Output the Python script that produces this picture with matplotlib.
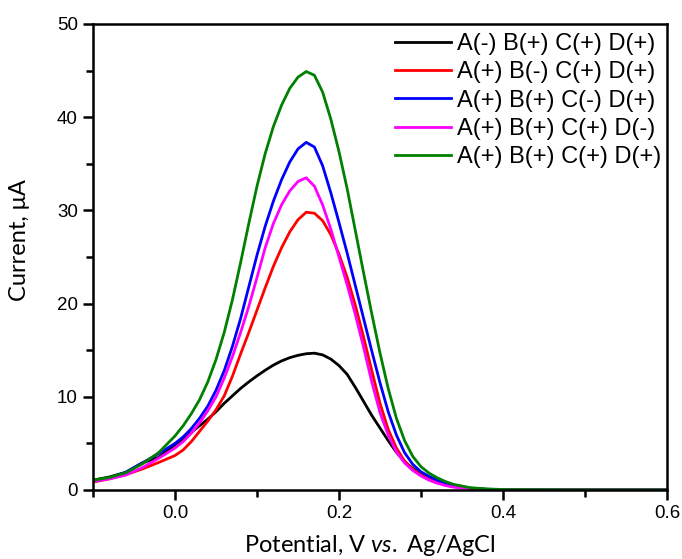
import matplotlib
matplotlib.use("Agg")
import matplotlib.pyplot as plt
from matplotlib.ticker import MultipleLocator, FixedLocator

# ---- data ----
potential = [-0.10, -0.08, -0.06, -0.04, -0.02,
             0.00, 0.01, 0.02, 0.03, 0.04, 0.05, 0.06, 0.07, 0.08, 0.09,
             0.10, 0.11, 0.12, 0.13, 0.14, 0.15, 0.16, 0.17, 0.18, 0.19,
             0.20, 0.21, 0.22, 0.23, 0.24, 0.25, 0.26, 0.27, 0.28, 0.29,
             0.30, 0.31, 0.32, 0.33, 0.34, 0.36, 0.38, 0.40, 0.50, 0.60]

cur_a_minus = [1.05, 1.4, 1.9, 2.9, 3.5,
               4.85, 5.5, 6.2, 6.9, 7.6, 8.4, 9.3, 10.1, 10.9, 11.6,
               12.25, 12.85, 13.4, 13.85, 14.2, 14.45, 14.62, 14.68, 14.5, 14.05,
               13.35, 12.4, 11.0, 9.5, 8.0, 6.65, 5.3, 4.05, 3.05, 2.3,
               1.75, 1.25, 0.9, 0.6, 0.4, 0.15, 0.06, 0.02, 0.01, 0.01]

cur_b_minus = [0.85, 1.2, 1.65, 2.25, 2.95,
               3.7, 4.3, 5.2, 6.3, 7.4, 8.6, 10.1, 12.2, 14.6, 16.9,
               19.3, 21.7, 24.0, 26.0, 27.7, 29.0, 29.8, 29.7, 28.9, 27.4,
               25.3, 22.8, 19.8, 16.4, 12.8, 9.3, 6.5, 4.5, 3.1, 2.2,
               1.65, 1.2, 0.85, 0.58, 0.38, 0.15, 0.06, 0.02, 0.01, 0.01]

cur_c_minus = [0.95, 1.3, 1.9, 2.9, 3.9,
               5.0, 5.7, 6.6, 7.7, 9.0, 10.7, 12.8, 15.4, 18.4, 21.8,
               25.2, 28.3, 31.0, 33.3, 35.2, 36.6, 37.3, 36.8, 34.8, 31.9,
               28.7, 25.4, 21.9, 18.4, 14.9, 11.5, 8.4, 5.9, 4.0, 2.75,
               1.95, 1.45, 1.05, 0.72, 0.48, 0.2, 0.08, 0.03, 0.01, 0.01]

cur_d_minus = [0.9, 1.2, 1.6, 2.4, 3.4,
               4.5, 5.2, 6.1, 7.2, 8.5, 10.0, 12.0, 14.3, 16.9, 19.7,
               22.8, 26.0, 28.6, 30.6, 32.1, 33.1, 33.5, 32.6, 30.6, 28.0,
               25.0, 22.0, 18.8, 15.3, 11.6, 8.3, 5.9, 4.1, 2.9, 2.1,
               1.5, 1.05, 0.72, 0.48, 0.3, 0.12, 0.05, 0.02, 0.01, 0.01]

cur_all_plus = [1.05, 1.35, 1.85, 2.8, 4.0,
                5.8, 6.9, 8.2, 9.7, 11.6, 14.0, 16.9, 20.4, 24.4, 28.6,
                32.6, 36.1, 39.0, 41.3, 43.1, 44.3, 44.9, 44.5, 42.7, 39.8,
                36.3, 32.3, 27.8, 23.3, 18.9, 14.7, 10.9, 7.7, 5.3, 3.6,
                2.5, 1.8, 1.3, 0.9, 0.6, 0.25, 0.12, 0.05, 0.02, 0.02]

labels = ["A(-) B(+) C(+) D(+)", "A(+) B(-) C(+) D(+)", "A(+) B(+) C(-) D(+)",
          "A(+) B(+) C(+) D(-)", "A(+) B(+) C(+) D(+)"]
series = [cur_a_minus, cur_b_minus, cur_c_minus, cur_d_minus, cur_all_plus]
colors = ["#000000", "#ff0000", "#0000ff", "#ff00ff", "#008000"]

xticks = [0.0, 0.2, 0.4, 0.6]
xticklabels = ["0.0", "0.2", "0.4", "0.6"]
yticks = [0, 10, 20, 30, 40, 50]

# ---- figure ----
plt.rcParams['mathtext.fontset'] = 'custom'
plt.rcParams['mathtext.it'] = 'Lato:italic'
plt.rcParams['mathtext.rm'] = 'Lato'

fig = plt.figure(figsize=(6.82, 5.59), dpi=100)
ax = fig.add_axes([93/682, 1-490/559, (667-93)/682, (490-24)/559])

for y, c, lab in zip(series, colors, labels):
    ax.plot(potential, y, color=c, lw=2.0, label=lab)

ax.set_xlim(-0.1, 0.6)
ax.set_ylim(0, 50)
ax.xaxis.set_major_locator(FixedLocator(xticks))
ax.set_xticklabels(xticklabels)
ax.xaxis.set_minor_locator(MultipleLocator(0.1))
ax.yaxis.set_major_locator(FixedLocator(yticks))
ax.yaxis.set_minor_locator(MultipleLocator(5))

for s in ax.spines.values():
    s.set_linewidth(1.8)
ax.tick_params(which='major', direction='out', length=7, width=1.8,
               labelsize=13.5, pad=4)
ax.tick_params(which='minor', direction='out', length=5, width=1.8)
for t in ax.get_xticklabels() + ax.get_yticklabels():
    t.set_fontfamily(['Liberation Sans', 'DejaVu Sans'])

ax.set_xlabel(r"Potential, V $\mathit{vs.}$ Ag/AgCl", fontsize=17,
              family=['Lato', 'DejaVu Sans'], labelpad=8)
ax.set_ylabel("Current, μA", fontsize=17, family=['Lato', 'DejaVu Sans'],
              labelpad=19)
ax.xaxis.label.set_x((370 - 93) / 574)
ax.yaxis.label.set_y((490 - 240) / 466)

leg = ax.legend(loc='upper right', frameon=False,
                prop={'family': 'Liberation Sans', 'size': 17},
                handlelength=2.35, handletextpad=0.25, labelspacing=0.27,
                borderaxespad=0, borderpad=0,
                bbox_to_anchor=(1 - 6/574, 1 - 9/466))

fig.savefig("out.png", dpi=100)
